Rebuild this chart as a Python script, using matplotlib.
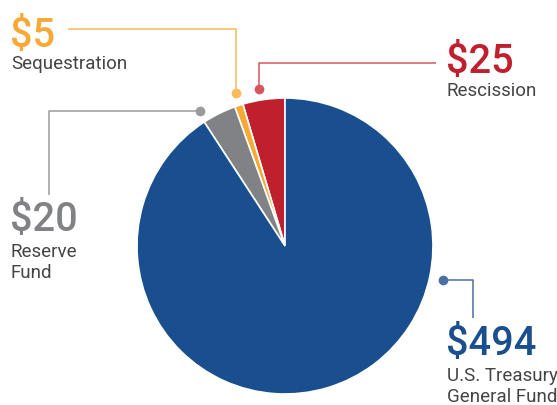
import matplotlib.pyplot as plt

# data
labels = ['Rescission', 'Sequestration', 'Reserve\nFund', 'U.S. Treasury\nGeneral Fund']
values = [25, 5, 20, 494]
amounts = ['$25', '$5', '$20', '$494']
colors = ['#c01f2e', '#f7a935', '#808285', '#1a4f8f']
line_colors = ['#d4565f', '#f8bb57', '#9a9b9d', '#4a6fa3']

W, H = 557, 405
fig = plt.figure(figsize=(W / 100, H / 100), dpi=100)
ax = fig.add_axes([0, 0, 1, 1])

def Y(y):
    # pixel (y down) -> data (y up)
    return H - y

cx, cy, r = 285, 246, 148
ax.pie(values, colors=colors, startangle=90, counterclock=True,
       center=(cx, Y(cy)), radius=r, frame=True,
       wedgeprops=dict(edgecolor='white', linewidth=1.2))

# connectors: dot + elbow lines (pixel coords)
conns = [
    [(259, 89), (259, 63), (436, 63)],
    [(236, 93), (236, 29), (68, 29)],
    [(200, 111), (49, 111), (49, 195)],
    [(443, 280), (473, 280), (473, 318)],
]
for pts, c in zip(conns, line_colors):
    xs = [p[0] for p in pts]
    ys = [Y(p[1]) for p in pts]
    ax.plot(xs, ys, color=c, lw=1.1, solid_capstyle='butt')
    ax.plot(xs[0], ys[0], 'o', color=c, ms=7, mec='none')

# text positions: (x, amount baseline, label first baseline)
text_pos = [(446, 73, 96), (10, 47, 69), (10, 231, 257), (446, 355, 381)]
for (x, yb, yl), amt, lab, c in zip(text_pos, amounts, labels, colors):
    ax.text(x, Y(yb), amt, color=c, fontsize=28.5, fontfamily='Roboto',
            fontweight='medium', ha='left', va='baseline')
    for i, line in enumerate(lab.split('\n')):
        ax.text(x + 1, Y(yl + i * 21), line, color='#444444', fontsize=13.5,
                fontfamily='Roboto', fontweight='normal', ha='left', va='baseline')

ax.set_xlim(0, W)
ax.set_ylim(0, H)
ax.set_aspect('equal')
ax.axis('off')

fig.savefig('out.png', dpi=100)
